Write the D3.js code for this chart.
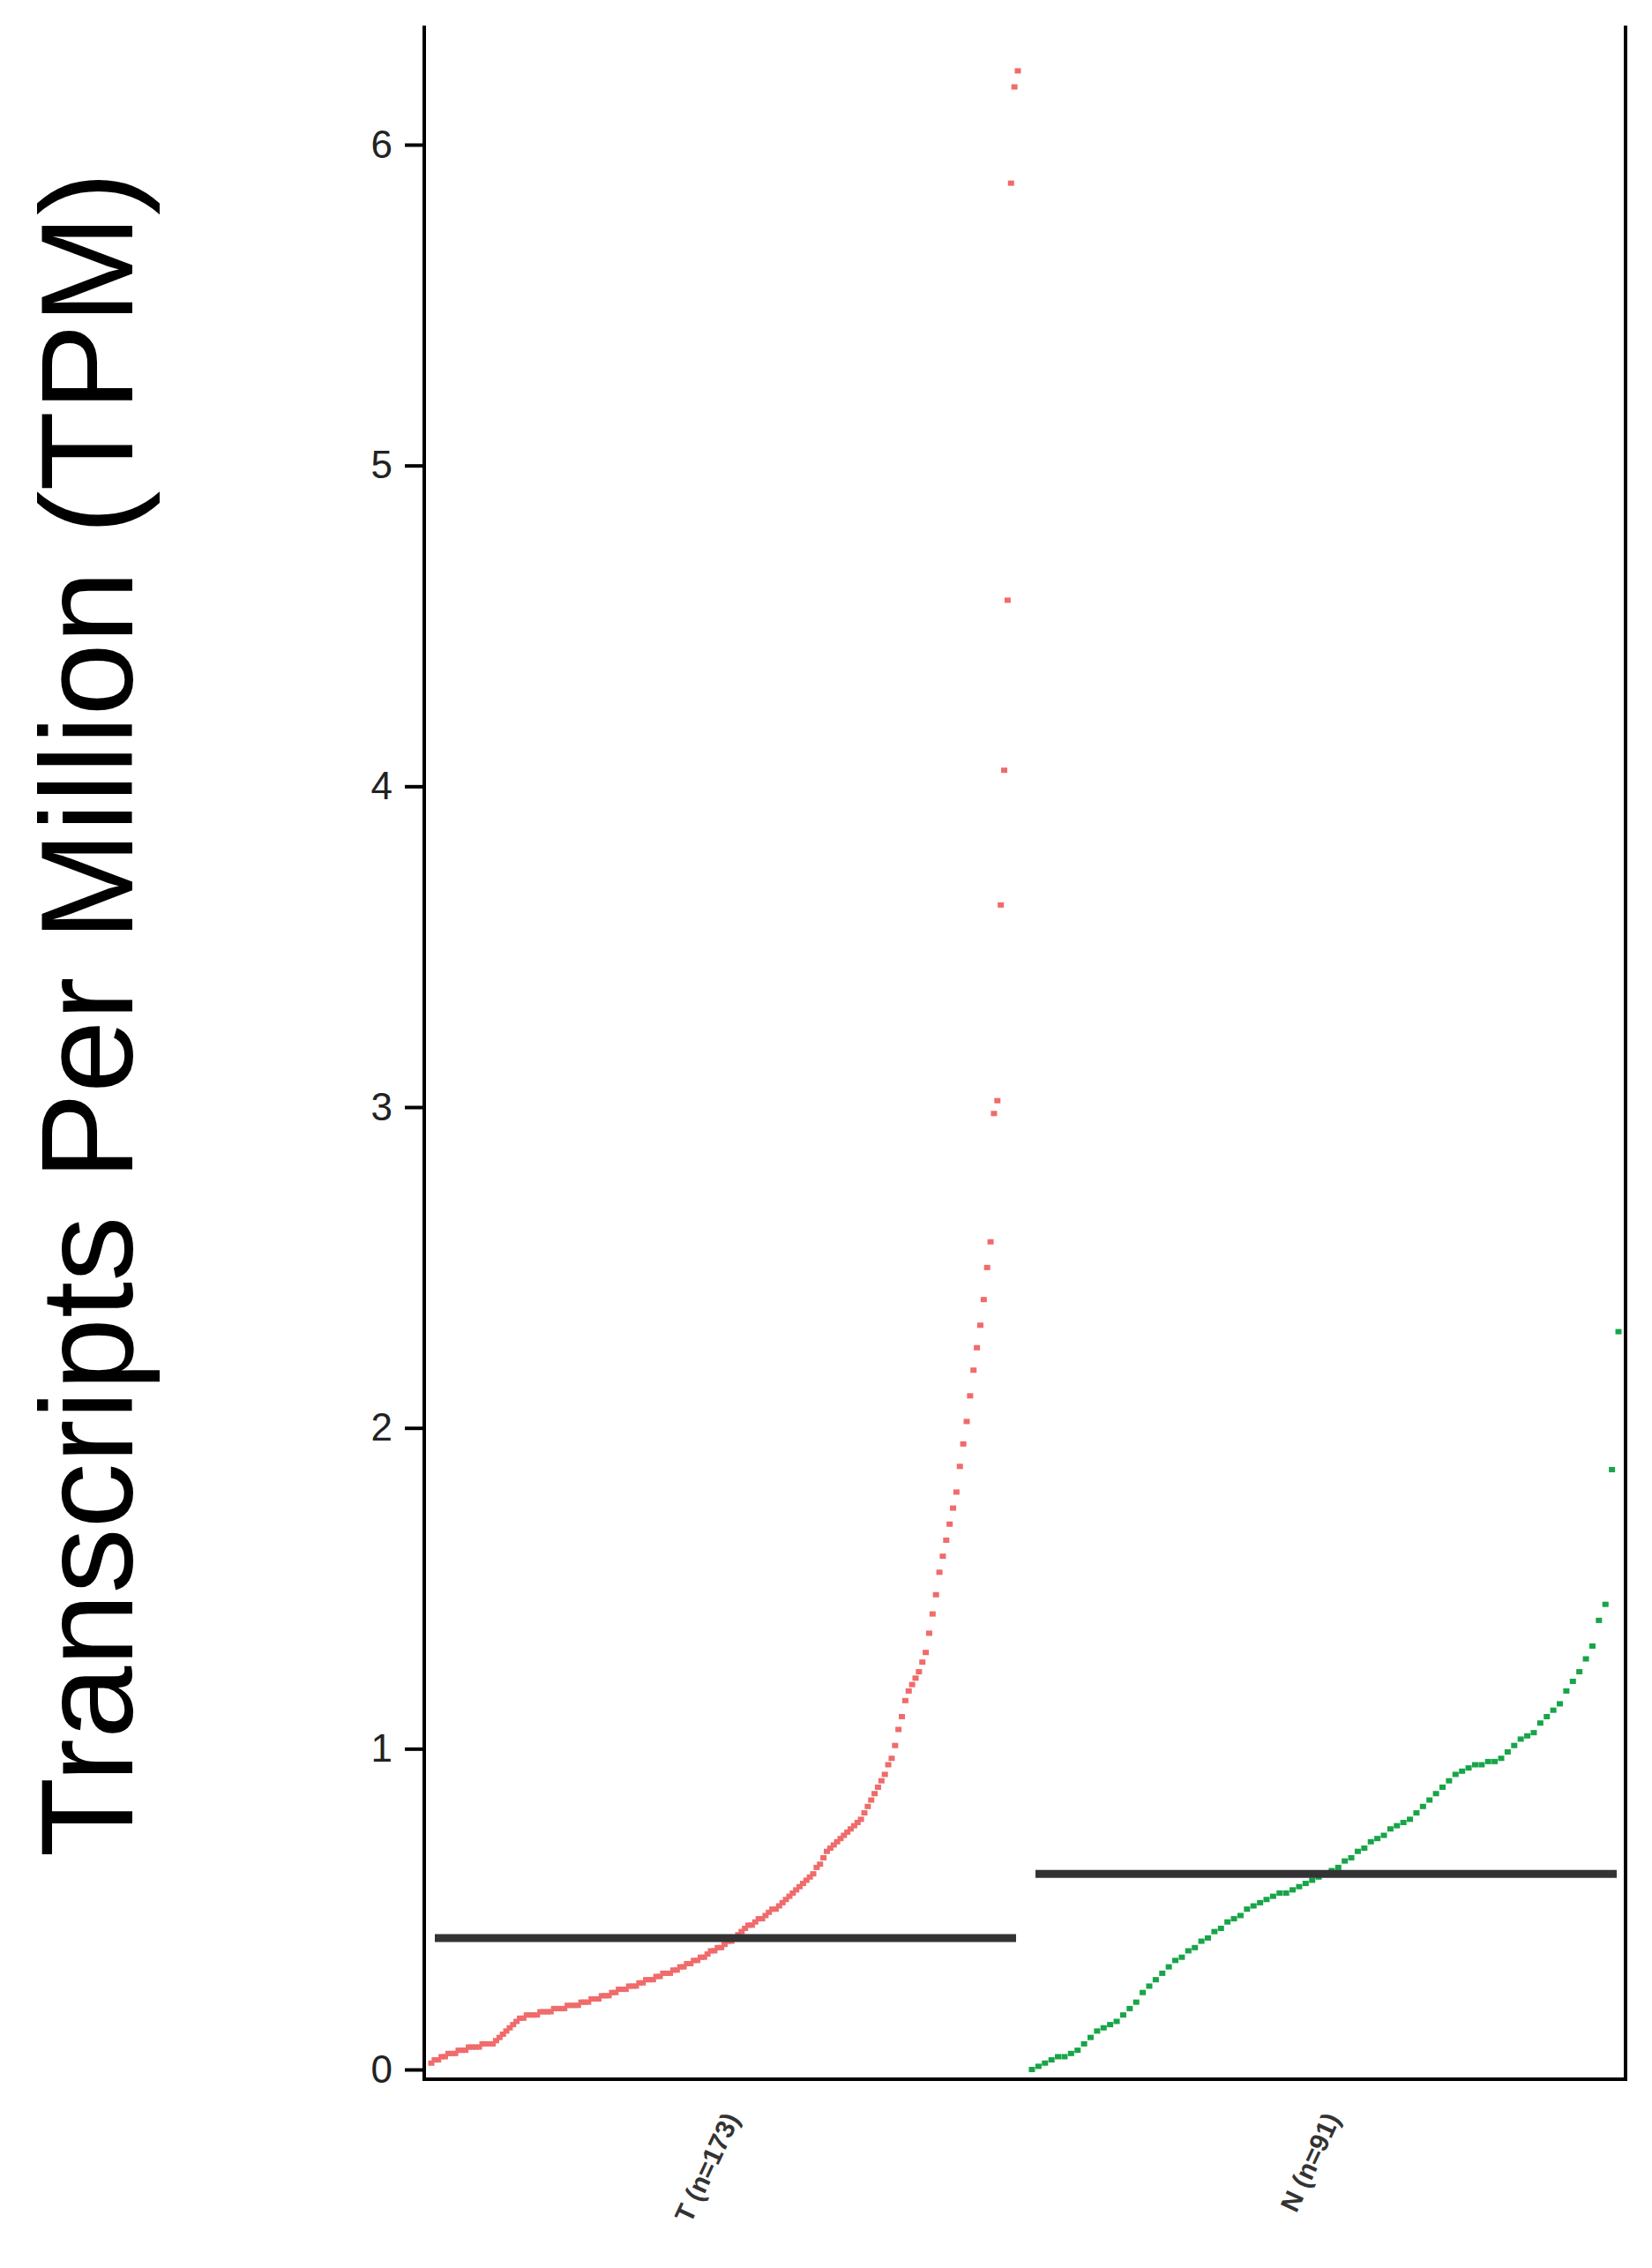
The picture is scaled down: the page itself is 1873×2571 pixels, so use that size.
<!DOCTYPE html>
<html>
<head>
<meta charset="utf-8">
<script src="https://cdn.jsdelivr.net/npm/d3@7"></script>
<style>
  body { margin: 0; background: #fff; }
  text { font-family: "Liberation Sans", Arial, sans-serif; }
</style>
</head>
<body>
<svg id="chart" width="1873" height="2571"></svg>
<script>
// sorted values per group
const categories = ["T (n=173)", "N (n=91)"];
const tValues = [
  0.02,0.03,0.03,0.04,0.04,0.05,0.05,0.05,0.06,0.06,0.06,0.07,0.07,0.07,0.07,0.08,0.08,0.08,0.08,
  0.09,0.10,0.11,0.12,0.13,0.14,0.15,0.16,0.16,0.17,0.17,0.17,0.17,
  0.18,0.18,0.18,0.18,0.19,0.19,0.19,0.19,0.2,0.2,0.2,0.2,
  0.21,0.21,0.21,0.22,0.22,0.22,0.23,0.23,0.23,0.24,0.24,0.25,0.25,
  0.25,0.26,0.26,0.26,0.27,0.27,0.28,0.28,0.28,0.29,0.29,0.3,0.3,
  0.3,0.31,0.31,0.32,0.32,0.33,0.33,0.34,0.34,0.35,0.35,0.36,0.37,
  0.37,0.38,0.38,0.39,0.4,0.4,0.41,0.42,
  0.43,0.44,0.45,0.45,0.46,0.47,0.47,0.48,0.49,0.5,0.5,0.51,0.52,
  0.53,0.54,0.55,0.56,0.57,0.58,0.59,0.6,
  0.61,0.63,0.64,0.66,0.68,0.69,0.7,0.71,0.72,
  0.73,0.74,0.75,0.76,0.77,0.78,0.8,0.82,
  0.84,0.86,0.88,0.9,0.92,0.95,0.97,
  1.01,1.06,1.1,1.15,
  1.18,1.2,1.22,1.24,1.27,1.3,
  1.36,1.42,1.48,1.55,
  1.6,1.65,1.7,1.75,1.8,
  1.88,1.95,2.02,2.1,
  2.18,2.25,2.32,2.4,
  2.5,2.58,2.98,
  3.02,3.63,4.05,4.58,5.88,6.18,6.23
];
const nValues = [
  0.0,0.01,0.02,0.03,0.04,0.04,0.05,0.06,
  0.08,0.1,0.12,0.13,0.14,0.15,
  0.17,0.19,0.21,0.24,0.26,0.28,0.3,
  0.32,0.34,0.35,0.37,0.38,0.4,
  0.41,0.43,0.44,0.46,0.47,0.48,0.5,
  0.51,0.52,0.53,0.54,0.55,0.55,0.56,
  0.57,0.58,0.59,0.6,0.61,0.62,
  0.63,0.65,0.66,0.68,0.69,0.71,0.72,
  0.73,0.75,0.76,0.77,0.78,0.8,
  0.82,0.84,0.86,0.88,0.9,0.92,0.93,
  0.94,0.95,0.95,0.96,0.96,0.97,
  0.99,1.01,1.03,1.04,1.05,
  1.08,1.1,1.12,1.14,
  1.18,1.21,1.24,1.28,1.32,
  1.4,1.45,1.87,2.3
];
const medians = [0.41, 0.61];
const colors = ["#f06b6b", "#17a548"];
const yTicks = [0, 1, 2, 3, 4, 5, 6];

const plotLeft = 481, plotRight = 1843, plotTop = 29, plotBottom = 2357;
const svg = d3.select("#chart");

const x = d3.scaleBand().domain(categories).range([plotLeft, plotRight]).padding(0);
const y = d3.scaleLinear().domain([0, 6]).range([2346, 164]);

const groups = [tValues, nValues];
groups.forEach((vals, g) => {
  const x0 = x(categories[g]);
  const xi = d3.scaleLinear().domain([0, vals.length - 1])
    .range([x0 + 8, x0 + x.bandwidth() - 8]);
  svg.append("g").selectAll("rect")
    .data(vals)
    .enter()
    .append("rect")
    .attr("x", (d, i) => xi(i) - 3.5)
    .attr("y", d => y(d) - 3)
    .attr("width", 7)
    .attr("height", 6)
    .attr("fill", colors[g]);

  svg.append("line")
    .attr("x1", x0 + 12)
    .attr("x2", x0 + x.bandwidth() - 10)
    .attr("y1", y(medians[g]))
    .attr("y2", y(medians[g]))
    .attr("stroke", "#333")
    .attr("stroke-width", 9);
});

// frame: left, right, bottom
svg.append("path")
  .attr("d", `M${plotLeft},${plotTop}V${plotBottom}H${plotRight}V${plotTop}`)
  .attr("fill", "none")
  .attr("stroke", "#000")
  .attr("stroke-width", 4);

// y axis
const yAxis = svg.append("g")
  .attr("transform", `translate(${plotLeft},0)`)
  .call(d3.axisLeft(y).tickValues(yTicks).tickSize(22).tickPadding(14).tickFormat(d3.format("d")));
yAxis.select(".domain").remove();
yAxis.selectAll("line").attr("stroke-width", 4);
yAxis.selectAll("text").style("font-size", "44px").attr("fill", "#222");

// x axis labels
const xAxis = svg.append("g")
  .attr("transform", `translate(0,${plotBottom})`)
  .call(d3.axisBottom(x).tickSize(0).tickPadding(0));
xAxis.select(".domain").remove();
xAxis.selectAll("text")
  .attr("transform", "translate(8,40) rotate(-65)")
  .attr("dy", "0.35em")
  .style("text-anchor", "end")
  .style("font-size", "30px")
  .style("font-weight", "bold")
  .attr("fill", "#333");

// y title
svg.append("text")
  .attr("transform", "translate(150,1150) rotate(-90)")
  .style("text-anchor", "middle")
  .style("font-size", "148px")
  .attr("fill", "#000")
  .text("Transcripts Per Million (TPM)");
</script>
</body>
</html>
